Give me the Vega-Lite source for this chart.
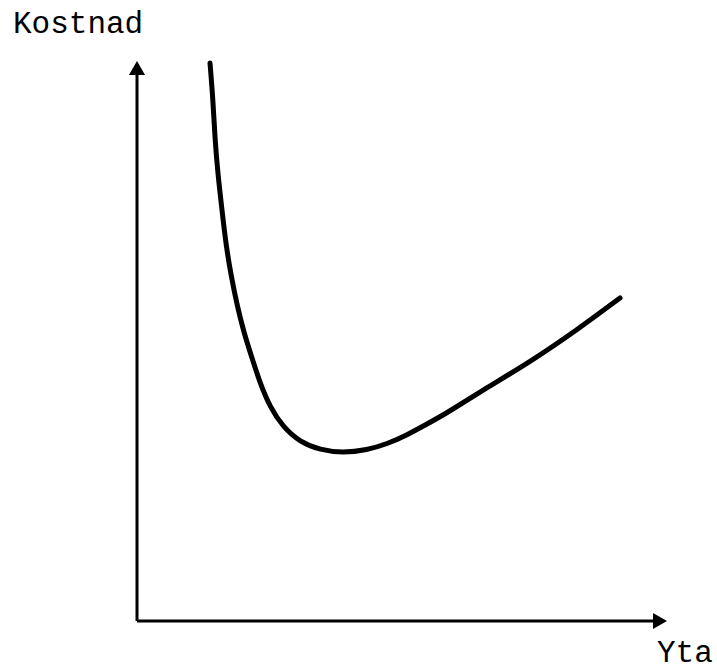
{
  "$schema": "https://vega.github.io/schema/vega-lite/v6.json",
  "width": 531,
  "height": 562,
  "autosize": {"type": "none"},
  "padding": {"left": 137, "top": 59, "right": 49, "bottom": 49},
  "background": "white",
  "config": {"view": {"stroke": null}},
  "datasets": {
    "curve": [
      {"x": 73, "y": 558}, {"x": 76, "y": 521}, {"x": 78, "y": 481}, {"x": 81, "y": 446},
      {"x": 85, "y": 411}, {"x": 89, "y": 376}, {"x": 94, "y": 346}, {"x": 100, "y": 316},
      {"x": 107, "y": 288}, {"x": 115, "y": 263}, {"x": 123, "y": 238}, {"x": 133, "y": 214},
      {"x": 146, "y": 194}, {"x": 163, "y": 179}, {"x": 183, "y": 171}, {"x": 206, "y": 168},
      {"x": 230, "y": 171}, {"x": 250, "y": 177}, {"x": 270, "y": 186}, {"x": 290, "y": 197},
      {"x": 310, "y": 208}, {"x": 346, "y": 231}, {"x": 393, "y": 259}, {"x": 440, "y": 291},
      {"x": 483, "y": 323}
    ],
    "axes": [
      {"x": 0, "y": 0, "x2": 0, "y2": 552},
      {"x": 0, "y": 0, "x2": 522, "y2": 0}
    ],
    "arrows": [
      {"x": 0, "y": 553, "shape": "triangle-up"},
      {"x": 523, "y": 0, "shape": "triangle-right"}
    ],
    "labels": [
      {"x": -124, "y": 588, "text": "Kostnad", "base": "alphabetic"},
      {"x": 520, "y": -48, "text": "Yta", "base": "bottom"}
    ]
  },
  "encoding": {
    "x": {"field": "x", "type": "quantitative", "scale": {"domain": [0, 531], "nice": false, "zero": false}, "axis": null},
    "y": {"field": "y", "type": "quantitative", "scale": {"domain": [0, 562], "nice": false, "zero": false}, "axis": null}
  },
  "layer": [
    {
      "data": {"name": "axes"},
      "mark": {"type": "rule", "color": "black", "strokeWidth": 3},
      "encoding": {
        "x2": {"field": "x2"},
        "y2": {"field": "y2"}
      }
    },
    {
      "data": {"name": "arrows"},
      "mark": {"type": "point", "filled": true, "color": "black", "size": 260, "opacity": 1},
      "encoding": {
        "shape": {"field": "shape", "type": "nominal", "scale": null}
      }
    },
    {
      "data": {"name": "curve"},
      "mark": {"type": "line", "color": "black", "strokeWidth": 5, "interpolate": "basis", "strokeCap": "round"}
    },
    {
      "data": {"name": "labels"},
      "transform": [{"filter": "datum.base == 'alphabetic'"}],
      "mark": {"type": "text", "align": "left", "baseline": "alphabetic", "font": "Liberation Mono", "fontSize": 31, "color": "black"},
      "encoding": {
        "text": {"field": "text", "type": "nominal"}
      }
    },
    {
      "data": {"name": "labels"},
      "transform": [{"filter": "datum.base == 'bottom'"}],
      "mark": {"type": "text", "align": "left", "baseline": "bottom", "font": "Liberation Mono", "fontSize": 31, "color": "black"},
      "encoding": {
        "text": {"field": "text", "type": "nominal"}
      }
    }
  ]
}
